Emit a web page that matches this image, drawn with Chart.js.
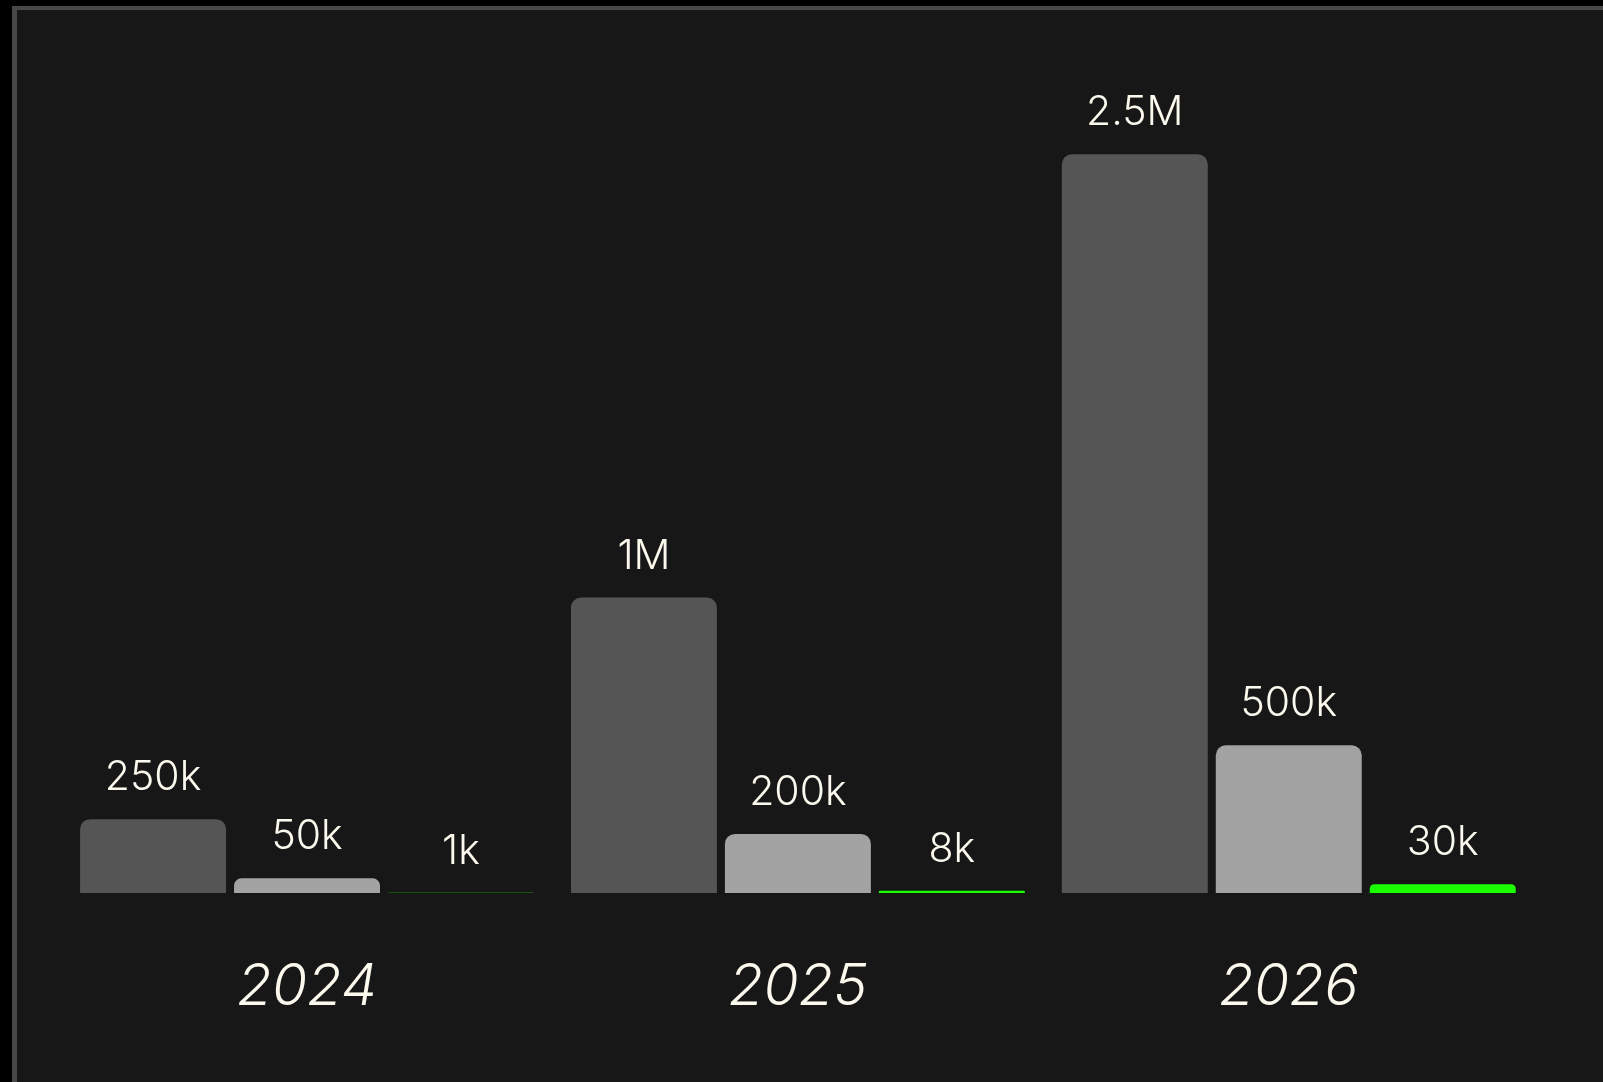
<!DOCTYPE html>
<html>
<head>
<meta charset="utf-8">
<script src="https://cdn.jsdelivr.net/npm/chart.js@4/dist/chart.umd.min.js"></script>
<style>
  html, body { margin: 0; padding: 0; background: #000; overflow: hidden; width: 1603px; height: 1082px; }
  #panel { position: absolute; left: 12px; top: 6px; width: 2000px; height: 2000px;
           background: #171717; border-left: 5px solid #484848; border-top: 4px solid #484848; }
  #wrap { position: absolute; left: 0; top: 0; width: 1603px; height: 1100px; }
</style>
</head>
<body>
<div id="panel"></div>
<div id="wrap"><canvas id="c" width="1603" height="1100"></canvas></div>
<script>
const categories = ['2024', '2025', '2026'];
const seriesDark = [250000, 1000000, 2500000];
const seriesLight = [50000, 200000, 500000];
const seriesGreen = [1000, 8000, 30000];
const seriesColors = ['#555555', '#a3a3a3', '#1aff00'];
const yMax = 3000000;

function fmt(v) {
  if (v >= 1000000) return (v / 1000000).toString().replace(/\.0$/, '') + 'M';
  if (v >= 1000) return (v / 1000).toString() + 'k';
  return String(v);
}

const valueLabelPlugin = {
  id: 'valueLabels',
  afterDatasetsDraw(chart) {
    const ctx = chart.ctx;
    ctx.save();
    ctx.fillStyle = '#fbf9ee';
    ctx.font = '300 41px Inter, "Open Sans", sans-serif';
    ctx.textAlign = 'center';
    ctx.textBaseline = 'alphabetic';
    chart.data.datasets.forEach((ds, i) => {
      const meta = chart.getDatasetMeta(i);
      meta.data.forEach((bar, j) => {
        ctx.fillText(fmt(ds.data[j]), bar.x, bar.y - 29);
      });
    });
    ctx.restore();
  }
};

const common = { categoryPercentage: 0.941, barPercentage: 0.948, borderRadius: 10, borderSkipped: 'start' };

new Chart(document.getElementById('c'), {
  type: 'bar',
  data: {
    labels: categories,
    datasets: [
      Object.assign({ label: 'A', data: seriesDark, backgroundColor: seriesColors[0] }, common),
      Object.assign({ label: 'B', data: seriesLight, backgroundColor: seriesColors[1] }, common),
      Object.assign({ label: 'C', data: seriesGreen, backgroundColor: seriesColors[2] }, common)
    ]
  },
  options: {
    responsive: false,
    animation: false,
    layout: { padding: { left: 61.6, right: 68.8, top: 6.5, bottom: 17 } },
    plugins: { legend: { display: false }, tooltip: { enabled: false } },
    scales: {
      y: { display: false, min: 0, max: yMax },
      x: {
        grid: { display: false, drawTicks: false },
        border: { display: false },
        ticks: {
          color: '#fbf9ee',
          padding: 66.5,
          font: { family: 'Inter, "Open Sans", sans-serif', size: 57, style: 'italic', weight: 300, lineHeight: 1 }
        }
      }
    }
  },
  plugins: [valueLabelPlugin]
});
</script>
</body>
</html>
